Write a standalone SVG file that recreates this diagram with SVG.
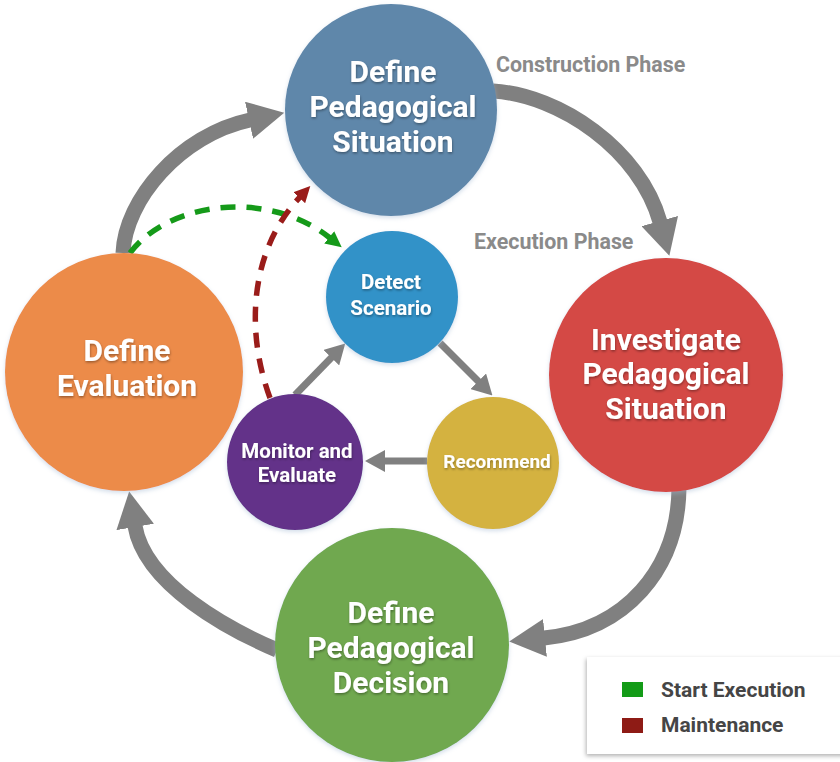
<svg xmlns="http://www.w3.org/2000/svg" width="840" height="762" viewBox="0 0 840 762">
  <style>
    text { font-family: Roboto, "Liberation Sans", sans-serif; font-weight: 700; }
    .big { font-size: 30px; fill: #ffffff; text-anchor: middle; filter: url(#textShadow); }
    .small { font-size: 20.5px; fill: #ffffff; text-anchor: middle; filter: url(#textShadow); }
    .small.compact { font-size: 19px; }
    .phase { font-size: 21.4px; fill: #8a8a8a; }
    .legend { font-size: 21px; fill: #454545; }
    .node { filter: url(#nodeShadow); }
    .cycle { fill: none; stroke: #808080; stroke-width: 15; marker-end: url(#bigHead); }
    .flow { fill: none; stroke: #808080; stroke-width: 7; marker-end: url(#smallHead); }
    .start { fill: none; stroke: #159a19; stroke-width: 5.5; stroke-dasharray: 15 11; marker-end: url(#greenHead); }
    .maint { fill: none; stroke: #9a1c1a; stroke-width: 5.5; stroke-dasharray: 15 11; marker-end: url(#redHead); }
  </style>
  <defs>
    <filter id="nodeShadow" x="-10%" y="-10%" width="120%" height="125%">
      <feDropShadow dx="0" dy="2" stdDeviation="2" flood-color="#9fb6d0" flood-opacity="0.45"/>
    </filter>
    <filter id="textShadow" x="-10%" y="-20%" width="120%" height="150%">
      <feDropShadow dx="0.5" dy="1.5" stdDeviation="1" flood-color="#000000" flood-opacity="0.35"/>
    </filter>
    <filter id="boxShadow" x="-10%" y="-10%" width="120%" height="130%">
      <feDropShadow dx="-1" dy="2" stdDeviation="2" flood-color="#000000" flood-opacity="0.3"/>
    </filter>
    <marker id="bigHead" markerUnits="userSpaceOnUse" markerWidth="36" markerHeight="38" viewBox="0 -19 36 38" refX="1" refY="0" orient="auto">
      <path d="M0,-19 L36,0 L0,19 Z" fill="#808080"/>
    </marker>
    <marker id="smallHead" markerUnits="userSpaceOnUse" markerWidth="20" markerHeight="22" viewBox="0 -11 20 22" refX="1" refY="0" orient="auto">
      <path d="M0,-11 L20,0 L0,11 Z" fill="#808080"/>
    </marker>
    <marker id="greenHead" markerUnits="userSpaceOnUse" markerWidth="16" markerHeight="16" viewBox="0 -8 16 16" refX="1" refY="0" orient="auto">
      <path d="M0,-8 L16,0 L0,8 Z" fill="#159a19"/>
    </marker>
    <marker id="redHead" markerUnits="userSpaceOnUse" markerWidth="16" markerHeight="16" viewBox="0 -8 16 16" refX="1" refY="0" orient="auto">
      <path d="M0,-8 L16,0 L0,8 Z" fill="#9a1c1a"/>
    </marker>
  </defs>

  <rect width="840" height="762" fill="#ffffff"/>

  <!-- phase captions -->
  <text class="phase" x="496" y="72">Construction Phase</text>
  <text class="phase" x="474" y="249">Execution Phase</text>

  <!-- connectors -->
  <g id="connectors">
    <path class="cycle" d="M493,91 C560,95 640,150 660,222"/>
    <path class="cycle" d="M679,488 C678,570 625,630 544,638"/>
    <path class="cycle" d="M277,650 C230,630 145,585 135,526"/>
    <path class="cycle" d="M123,253 C125,200 180,135 250,120"/>
    <path class="flow" d="M440,343 L479,382"/>
    <path class="flow" d="M427,461 L384,461"/>
    <path class="flow" d="M295,395 L332,357"/>
    <path class="start" d="M130,253 C170,200 270,190 330,238"/>
    <path class="maint" d="M270,398 C245,330 250,250 300,197"/>
  </g>

  <!-- outer cycle -->
  <g id="define-situation">
    <circle class="node" cx="391" cy="110" r="106" fill="#5f87aa"/>
    <text class="big" x="393" y="82">Define</text>
    <text class="big" x="393" y="117">Pedagogical</text>
    <text class="big" x="393" y="152">Situation</text>
  </g>
  <g id="investigate-situation">
    <circle class="node" cx="666" cy="375" r="117" fill="#d44944"/>
    <text class="big" x="666" y="350">Investigate</text>
    <text class="big" x="666" y="384">Pedagogical</text>
    <text class="big" x="666" y="419">Situation</text>
  </g>
  <g id="define-decision">
    <circle class="node" cx="392" cy="645" r="117" fill="#6fa84f"/>
    <text class="big" x="391" y="623">Define</text>
    <text class="big" x="391" y="658">Pedagogical</text>
    <text class="big" x="391" y="693">Decision</text>
  </g>
  <g id="define-evaluation">
    <circle class="node" cx="124" cy="372" r="119" fill="#ec8b48"/>
    <text class="big" x="127" y="361">Define</text>
    <text class="big" x="127" y="396">Evaluation</text>
  </g>

  <!-- inner execution loop -->
  <g id="detect-scenario">
    <circle class="node" cx="392" cy="297" r="66" fill="#3392c8"/>
    <text class="small" x="391" y="289">Detect</text>
    <text class="small" x="391" y="315">Scenario</text>
  </g>
  <g id="recommend">
    <circle class="node" cx="493" cy="463" r="66" fill="#d4b23f"/>
    <text class="small compact" x="497" y="468">Recommend</text>
  </g>
  <g id="monitor-evaluate">
    <circle class="node" cx="295" cy="462" r="68" fill="#633189"/>
    <text class="small" x="297" y="458">Monitor and</text>
    <text class="small" x="297" y="482">Evaluate</text>
  </g>

  <!-- legend -->
  <g id="legend">
    <rect x="587" y="657" width="270" height="97" fill="#ffffff" filter="url(#boxShadow)"/>
    <rect x="622" y="682" width="21" height="15" fill="#139b17"/>
    <text class="legend" x="661" y="697">Start Execution</text>
    <rect x="622" y="718" width="21" height="15" fill="#8e1b15"/>
    <text class="legend" x="661" y="732">Maintenance</text>
  </g>
</svg>
